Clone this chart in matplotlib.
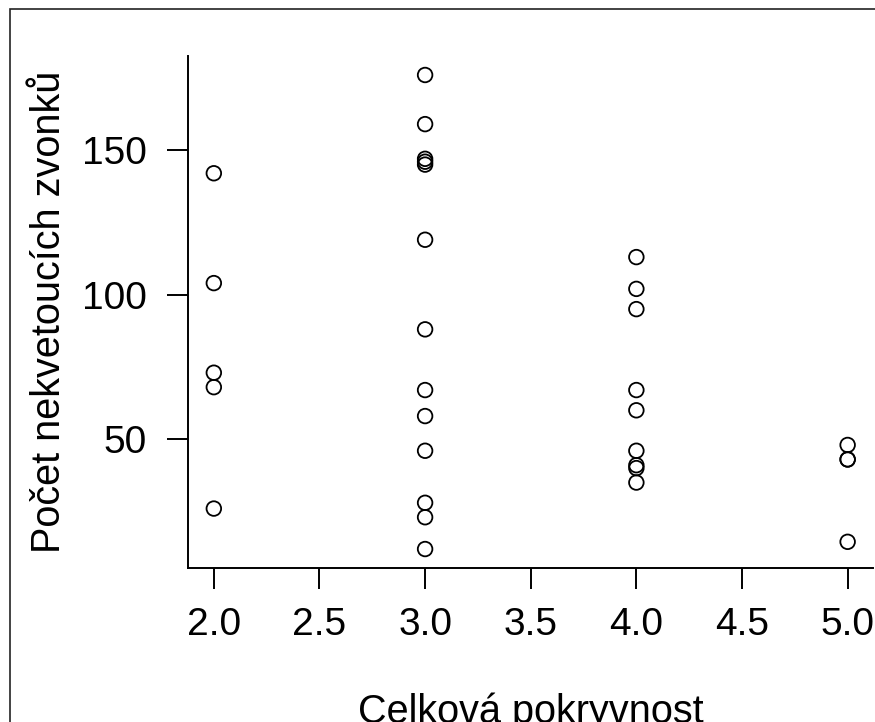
import numpy as np
import matplotlib
matplotlib.use("Agg")
import matplotlib.pyplot as plt
from matplotlib.patches import Rectangle

plt.rcParams['font.family'] = ['Liberation Sans', 'DejaVu Sans']

# celková pokryvnost (x) a počet nekvetoucích zvonků (y)
cover_2 = [142, 104, 73, 68, 26]
cover_3 = [176, 159, 147, 146, 145, 119, 88, 67, 58, 46, 28, 23, 12]
cover_4 = [113, 102, 95, 67, 60, 46, 41, 40, 35]
cover_5 = [48, 43, 43, 14.5]
groups = [2.0, 3.0, 4.0, 5.0]

x_ticks = [2.0, 2.5, 3.0, 3.5, 4.0, 4.5, 5.0]
y_ticks = [50, 100, 150]

xs = np.concatenate([[g] * len(v) for g, v in zip(groups, [cover_2, cover_3, cover_4, cover_5])])
ys = np.concatenate([cover_2, cover_3, cover_4, cover_5])

fig = plt.figure(figsize=(8.75, 7.22), dpi=100)
ax = fig.add_axes([0.2154, 0.2133, 0.9977 - 0.2154, 0.9224 - 0.2133])

ax.scatter(xs, ys, s=10.5 ** 2, facecolors='none', edgecolors='black', linewidths=1.3, clip_on=False)

# R-like limits: range +/- 4 %
def r_lim(v):
    lo, hi = min(v), max(v)
    d = (hi - lo) * 0.04
    return lo - d, hi + d

ax.set_xlim(*r_lim(xs))
ax.set_ylim(*r_lim(ys))

ax.set_xticks(x_ticks)
ax.set_xticklabels([f"{t:.1f}" for t in x_ticks])
ax.set_yticks(y_ticks)
ax.tick_params(direction='out', length=15, width=1.4, labelsize=28)
ax.tick_params(axis='x', pad=13)
ax.tick_params(axis='y', pad=15)
ax.spines['top'].set_visible(False)
ax.spines['right'].set_visible(False)
ax.spines['left'].set_linewidth(1.4)
ax.spines['bottom'].set_linewidth(1.4)

ax.set_xlabel("Celková pokryvnost", fontsize=28.5, labelpad=36)
ax.set_ylabel("Počet nekvetoucích zvonků", fontsize=28.5, labelpad=10)

# frame around the plot window
fig.patches.append(Rectangle((10 / 875, -0.1), 1.2, (722 - 9) / 722 + 0.1,
                             transform=fig.transFigure, fill=False,
                             edgecolor='#222222', linewidth=1.2))

fig.savefig("out.png", dpi=100)
